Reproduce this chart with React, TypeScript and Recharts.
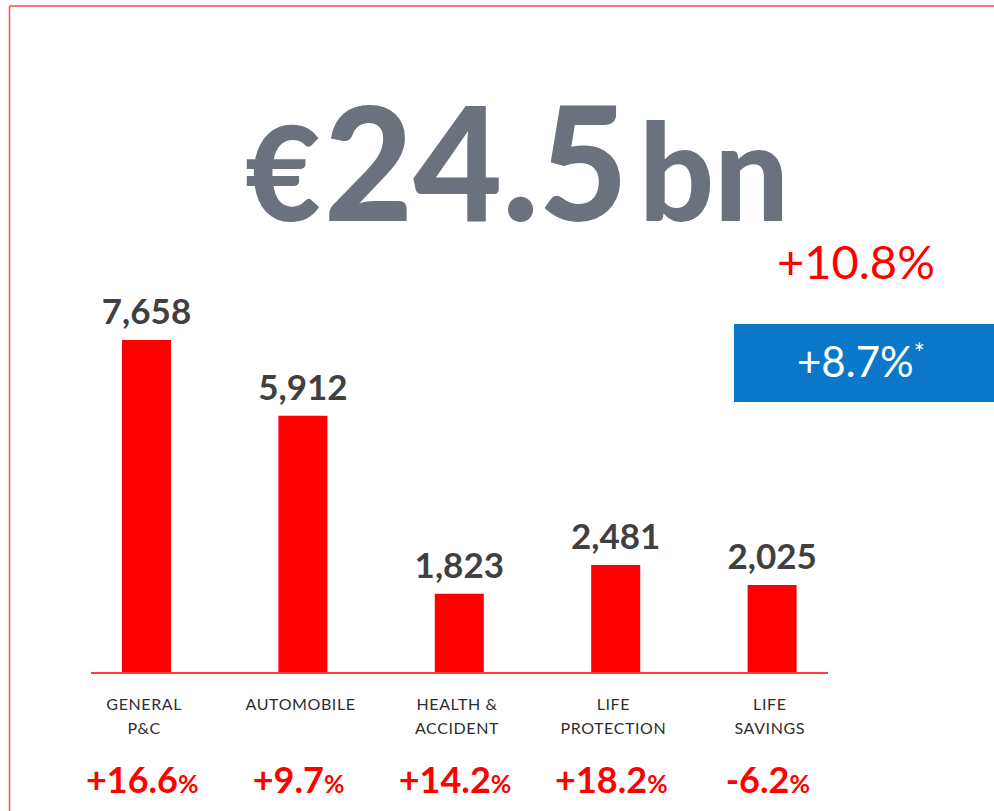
import React from "react";
import { BarChart, Bar, XAxis, YAxis, LabelList, ReferenceLine } from "recharts";

const categories = ["GENERAL\nP&C", "AUTOMOBILE", "HEALTH &\nACCIDENT", "LIFE\nPROTECTION", "LIFE\nSAVINGS"];
const values = [7658, 5912, 1823, 2481, 2025];
const growth = ["+16.6", "+9.7", "+14.2", "+18.2", "-6.2"];

const data = categories.map((c, i) => ({ category: c, value: values[i], growth: growth[i] }));

const FONT = "Lato, 'Open Sans', sans-serif";
const RED = "#FF0000";

const Tick = (props: any) => {
  const { x, y, payload } = props;
  const row = data.find((d) => d.category === payload.value);
  const lines = String(payload.value).split("\n");
  return (
    <g>
      {lines.map((l, i) => (
        <text
          key={i}
          x={x - 2}
          y={y + 37 + i * 24}
          textAnchor="middle"
          fontFamily={FONT}
          fontSize={16}
          letterSpacing={0.6}
          fill="#2E2E2E"
        >
          {l}
        </text>
      ))}
      <text x={x - 4} y={y + 120} textAnchor="middle" fontFamily={FONT} fontWeight={700} fill={RED}>
        <tspan fontSize={36}>{row ? row.growth : ""}</tspan>
        <tspan fontSize={25}>%</tspan>
      </text>
    </g>
  );
};

const AxisLine = (props: any) => {
  const { x1, y1, x2, y2 } = props;
  return <line x1={x1 + 23} y1={y1} x2={x2 - 22} y2={y2} stroke="#FF3B3B" strokeWidth={2} />;
};

export default function App() {
  return (
    <div style={{ position: "absolute", left: 0, top: 0, width: 994, height: 811, background: "#fff", overflow: "hidden" }}>
      <BarChart
        width={994}
        height={811}
        data={data}
        margin={{ top: 325, right: 144, bottom: 8, left: 68 }}
      >
        <XAxis
          dataKey="category"
          axisLine={false}
          tickLine={false}
          tickSize={0}
          tickMargin={0}
          height={130}
          interval={0}
          tick={<Tick />}
        />
        <YAxis hide domain={[0, 8000]} />
        <ReferenceLine y={0} shape={<AxisLine />} ifOverflow="visible" />
        <Bar dataKey="value" fill={RED} barSize={49} isAnimationActive={false}>
          <LabelList
            dataKey="value"
            position="top"
            offset={16}
            formatter={(v: any) => Number(v).toLocaleString("en-US")}
            style={{ fontFamily: FONT, fontWeight: 700, fontSize: 35, fill: "#404040" }}
          />
        </Bar>
      </BarChart>
      <svg
        width={994}
        height={811}
        style={{ position: "absolute", left: 0, top: 0, pointerEvents: "none" }}
      >
        <line x1={9.5} y1={6} x2={994} y2={6} stroke="#FF4D4D" strokeWidth={1.5} />
        <line x1={9.5} y1={6} x2={9.5} y2={811} stroke="#FF4D4D" strokeWidth={1.5} />
        <g fontFamily={FONT} fontWeight={900} fill="#6B717D">
          <text x={245} y={221} fontSize={131} textLength={76} lengthAdjust="spacingAndGlyphs">€</text>
          <text x={324} y={221} fontSize={158} textLength={304} lengthAdjust="spacingAndGlyphs">24.5</text>
          <text x={639} y={221} fontSize={136} textLength={150} lengthAdjust="spacingAndGlyphs">bn</text>
        </g>
        <text x={777} y={279} fontFamily={FONT} fontSize={47} fill={RED}>+10.8%</text>
        <rect x={734} y={324} width={260} height={78} fill="#0A77C9" />
        <text x={797} y={377} fontFamily={FONT} fontSize={42} fill="#FFFFFF">
          +8.7%
          <tspan fontSize={26} dy={-14}>*</tspan>
        </text>
      </svg>
    </div>
  );
}
